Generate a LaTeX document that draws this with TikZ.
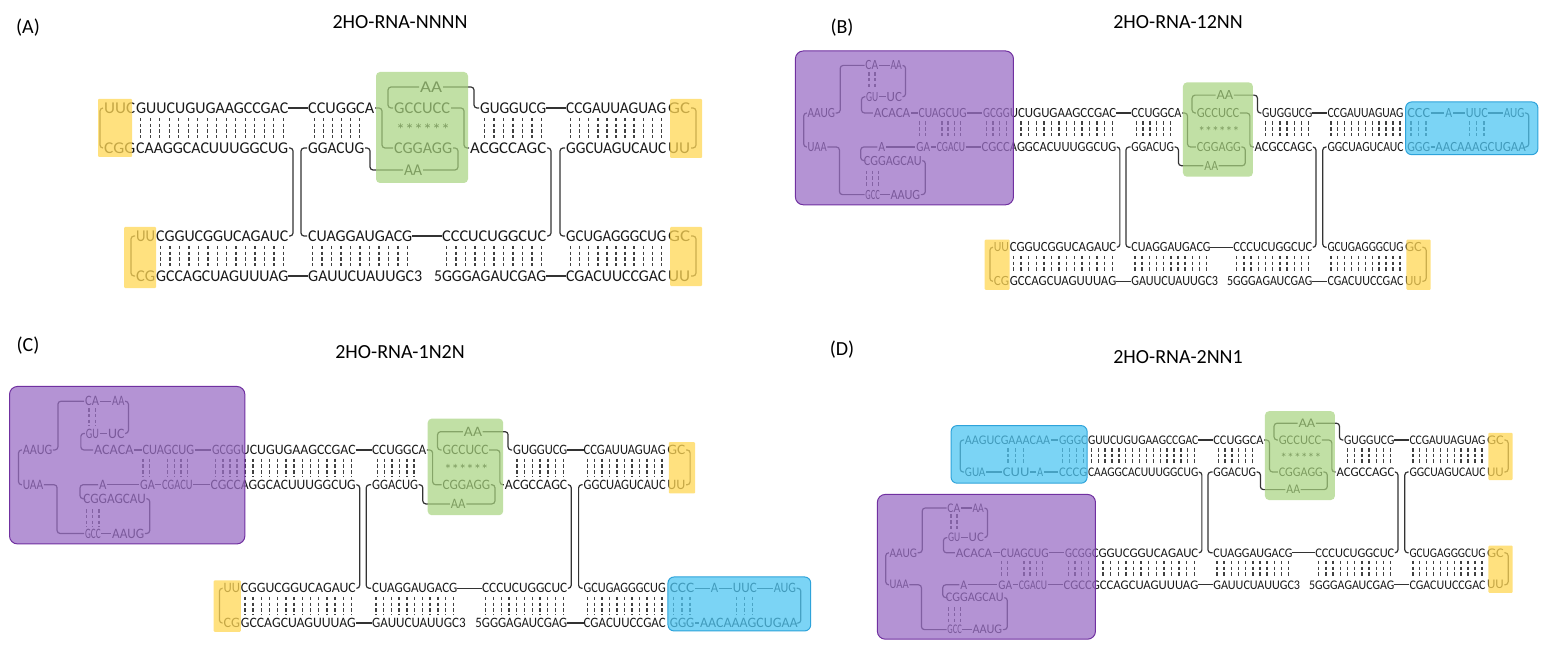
\documentclass[tikz,border=0pt]{standalone}
\usepackage{fontspec}
\usepackage{graphicx}
\setmainfont{Carlito}
\definecolor{yelc}{HTML}{FFD755}
\definecolor{grnc}{HTML}{A8D47F}
\definecolor{purc}{HTML}{9B6FC6}
\definecolor{purb}{HTML}{7030A0}
\definecolor{bluc}{HTML}{4FC6F2}
\definecolor{blub}{HTML}{2EA3DA}
\newlength\fwl
\newcommand\fw[3]{\settowidth\fwl{#3}\pgfmathsetmacro\fwr{((#2)-(#1))/\fwl}\scalebox{\fwr}[1]{#3}}
\newcommand\sq[4]{\node[sq] at (#1,#3) {\fw{#1}{#2}{#4}};}
\newcommand\bars[4]{\foreach \i in {1,...,#3} \draw[bar] ({#1+(\i-0.5)*((#2)-(#1))/#3},{#4+10}) -- ++(0,20);}
\tikzset{
 sq/.style={anchor=west,inner sep=0pt,font=\fontsize{16.5}{16.5}\selectfont,text=black!90},
 ln/.style={draw=black!80,line width=1.2pt,rounded corners=3pt},
 bar/.style={draw=black!75,line width=1.4pt,dash pattern=on 3.5pt off 2.2pt},
 ybox/.style={fill=yelc,fill opacity=.75,draw=none,rounded corners=1pt},
 gbox/.style={fill=grnc,fill opacity=.7,draw=none,rounded corners=4pt},
 pbox/.style={fill=purc,fill opacity=.75,draw=purb,line width=1pt,rounded corners=8pt},
 bbox/.style={fill=bluc,fill opacity=.75,draw=blub,line width=1pt,rounded corners=6pt},
 ttl/.style={font=\fontsize{20}{20}\selectfont,inner sep=0pt},
}
\newcommand\core[1]{%
 \sq{308}{374}{108}{CCUGGCA}\sq{480}{546}{108}{GUGGUCG}\sq{566}{666}{108}{CCGAUUAGUAG}
 \sq{308}{364}{148}{GGACUG}\sq{470}{546}{148}{ACGCCAGC}\sq{566}{666}{148}{GGCUAGUCAUC}
 \draw[ln] (288,108)--(308,108); \draw[ln] (546,108)--(566,108);
 \bars{310}{364}{6}{108}\bars{480}{546}{7}{108}\bars{566}{666}{11}{108}
 \sq{420}{442}{87}{AA}\sq{394}{450}{108}{GCCUCC}\sq{396}{450}{130}{******}
 \sq{394}{452}{148}{CGGAGG}\sq{404}{422}{170}{AA}
 \draw[ln] (375,108)--(382,108)--(382,148)--(393,148);
 \draw[ln] (453,148)--(458,148)--(458,170)--(423,170);
 \draw[ln] (403,170)--(370,170)--(370,148)--(365,148);
 \draw[ln] (393,108)--(388,108)--(388,87)--(419,87);
 \draw[ln] (443,87)--(474,87)--(474,108)--(479,108);
 \draw[ln] (451,108)--(464,108)--(464,148)--(469,148);
 \fill[gbox] (376,72) rectangle (468,183);
 \sq{308}{412}{#1}{CUAGGAUGACG}\sq{442}{546}{#1}{CCCUCUGGCUC}\sq{566}{666}{#1}{GCUGAGGGCUG}
 \sq{308}{422}{#1+40}{GAUUCUAUUGC3}\sq{434}{546}{#1+40}{5GGGAGAUCGAG}\sq{566}{666}{#1+40}{CGACUUCCGAC}
 \draw[ln] (412,#1)--(442,#1); \draw[ln] (288,#1+40)--(308,#1+40); \draw[ln] (546,#1+40)--(566,#1+40);
 \bars{308}{412}{11}{#1}\bars{442}{546}{11}{#1}\bars{566}{666}{11}{#1}
 \draw[ln] (289,148)--(293,148)--(293,#1)--(289,#1);
 \draw[ln] (307,148)--(301,148)--(301,#1)--(307,#1);
 \draw[ln] (547,148)--(551,148)--(551,#1)--(547,#1);
 \draw[ln] (565,148)--(560,148)--(560,#1)--(565,#1);
}
\newcommand\lstr[5]{\sq{#1}{288}{#2}{#3}\sq{#1}{288}{#2+40}{#4}\bars{#1}{288}{#5}{#2}}
\newcommand\ycapR[1]{\sq{668}{690}{#1}{GC}\sq{668}{690}{#1+40}{UU}
 \draw[ln] (691,#1)--(696,#1)--(696,#1+40)--(691,#1+40);
 \fill[ybox] (670,#1-9) rectangle (702,#1+50);}
\newcommand\ycapL[1]{\sq{127}{147}{#1}{UU}\sq{127}{147}{#1+40}{CG}
 \draw[ln] (126,#1)--(122,#1)--(122,#1+40)--(126,#1+40);
 \fill[ybox] (115,#1-9) rectangle (148,#1+50);}
\newcommand\purp[1]{%
 \sq{-118}{-82}{#1}{AAUG}\sq{-118}{-93}{#1+40}{UAA}
 \draw[ln] (-119,#1)--(-123,#1)--(-123,#1+40)--(-119,#1+40);
 \draw[ln] (-81,#1)--(-75,#1)--(-75,#1-56)--(-43,#1-56);
 \sq{-42}{-25}{#1-56}{CA}\draw[ln] (-24,#1-56)--(-10,#1-56);\sq{-9}{6}{#1-56}{AA}
 \draw[ln] (7,#1-56)--(11,#1-56)--(11,#1-19)--(7,#1-19);
 \sq{-41}{-25}{#1-19}{GU}\draw[ln] (-24,#1-19)--(-15,#1-19);\sq{-14}{6}{#1-19}{UC}
 \bars{-41}{-25}{2}{#1-58}
 \draw[ln] (-42,#1-19)--(-47,#1-19)--(-47,#1)--(-32,#1);
 \sq{-31}{17}{#1}{ACACA}\draw[ln] (18,#1)--(27,#1);\sq{28}{91}{#1}{CUAGCUG}
 \draw[ln] (92,#1)--(112,#1);\sq{113}{148}{#1}{GCGG}
 \draw[ln] (-92,#1+40)--(-76,#1+40)--(-76,#1+96)--(-43,#1+96);
 \sq{-42}{-23}{#1+96}{GCC}\draw[ln] (-22,#1+96)--(-10,#1+96);\sq{-9}{30}{#1+96}{AAUG}
 \draw[ln] (31,#1+96)--(37,#1+96)--(37,#1+56)--(33,#1+56);
 \sq{-44}{32}{#1+56}{CGGAGCAU}\bars{-44}{-21}{3}{#1+58}
 \draw[ln] (-45,#1+56)--(-48,#1+56)--(-48,#1+40)--(-26,#1+40);
 \sq{-25}{-16}{#1+40}{A}\draw[ln] (-15,#1+40)--(24,#1+40);\sq{25}{43}{#1+40}{GA}
 \draw[ln] (44,#1+40)--(51,#1+40);\sq{52}{89}{#1+40}{CGACU}
 \draw[ln] (90,#1+40)--(110,#1+40);\sq{111}{148}{#1+40}{CGCC}
 \bars{25}{41}{2}{#1}\bars{55}{87}{4}{#1}\bars{113}{148}{4}{#1}
 \draw[pbox] (-134,#1-73) rectangle (153,#1+108);}
\newcommand\blueR[1]{%
 \sq{671}{701}{#1}{CCC}\draw[ln] (702,#1)--(720,#1);\sq{721}{730}{#1}{A}
 \draw[ln] (731,#1)--(747,#1);\sq{748}{777}{#1}{UUC}\draw[ln] (778,#1)--(797,#1);\sq{798}{825}{#1}{AUG}
 \draw[ln] (826,#1)--(831,#1)--(831,#1+40)--(828,#1+40);
 \sq{671}{701}{#1+40}{GGG}\draw[ln] (702,#1+40)--(707,#1+40);\sq{708}{827}{#1+40}{AACAAAGCUGAA}
 \bars{671}{701}{3}{#1}\bars{748}{777}{3}{#1}
 \draw[bbox] (669,#1-13) rectangle (843,#1+49);}
\newcommand\blueL[1]{%
 \sq{-19}{93}{#1}{AAGUCGAAACAA}\draw[ln] (94,#1)--(104,#1);\sq{105}{142}{#1}{GGGC}
 \sq{-19}{8}{#1+40}{GUA}\draw[ln] (9,#1+40)--(30,#1+40);\sq{31}{66}{#1+40}{CUU}
 \draw[ln] (67,#1+40)--(75,#1+40);\sq{76}{84}{#1+40}{A}\draw[ln] (85,#1+40)--(104,#1+40);\sq{105}{142}{#1+40}{CCCG}
 \draw[ln] (-20,#1)--(-25,#1)--(-25,#1+40)--(-20,#1+40);
 \bars{33}{63}{3}{#1}\bars{105}{142}{4}{#1}
 \draw[bbox] (-37,#1-18) rectangle (142,#1+54);}
\begin{document}
\begin{tikzpicture}[x=1pt,y=-1pt]
\useasboundingbox (0,0) rectangle (1541,652);
\fill[white] (0,0) rectangle (1541,652);
\node[ttl] (la) at (28,28) {(A)};
\node[ttl] (lb) at (842,28) {(B)};
\node[ttl] (lc) at (28,346) {(C)};
\node[ttl] (ld) at (842,350) {(D)};
\node[ttl] (ta) at (400,22) {2HO-RNA-NNNN};
\node[ttl] (tb) at (1178,22) {2HO-RNA-12NN};
\node[ttl] (tc) at (400,352) {2HO-RNA-1N2N};
\node[ttl] (td) at (1178,357) {2HO-RNA-2NN1};
\begin{scope}
 \core{236}
 \lstr{136}{108}{GUUCUGUGAAGCCGAC}{CAAGGCACUUUGGCUG}{16}
 \lstr{156}{236}{CGGUCGGUCAGAUC}{GCCAGCUAGUUUAG}{14}
 \sq{104}{135}{108}{UUC}\sq{104}{135}{148}{CGG}
 \draw[ln] (103,108)--(100,108)--(100,148)--(103,148);
 \fill[ybox] (98,99) rectangle (132,157);
 \sq{136}{155}{236}{UU}\sq{136}{155}{276}{CG}
 \draw[ln] (135,236)--(131,236)--(131,276)--(135,276);
 \fill[ybox] (124,227) rectangle (156,288);
 \ycapR{108}\ycapR{236}
\end{scope}
\begin{scope}[shift={(897.2,21.2)},xscale=.76,yscale=.85,transform shape]
 \core{266}
 \lstr{148}{108}{UCUGUGAAGCCGAC}{AGGCACUUUGGCUG}{14}
 \lstr{148}{266}{CGGUCGGUCAGAUC}{GCCAGCUAGUUUAG}{14}
 \purp{108}\blueR{108}\ycapL{266}\ycapR{266}
\end{scope}
\begin{scope}[shift={(119.4,356)},xscale=.82,yscale=.87,transform shape]
 \core{267}
 \lstr{148}{108}{UCUGUGAAGCCGAC}{AGGCACUUUGGCUG}{14}
 \lstr{148}{267}{CGGUCGGUCAGAUC}{GCCAGCUAGUUUAG}{14}
 \purp{108}\ycapR{108}\ycapL{267}\blueR{267}
\end{scope}
\begin{scope}[shift={(979.2,353.6)},xscale=.76,yscale=.8,transform shape]
 \core{249}
 \lstr{143}{108}{GUUCUGUGAAGCCGAC}{CAAGGCACUUUGGCUG}{16}
 \lstr{148}{249}{CGGUCGGUCAGAUC}{GCCAGCUAGUUUAG}{14}
 \blueL{108}\ycapR{108}\purp{249}\ycapR{249}
\end{scope}
\end{tikzpicture}
\end{document}
